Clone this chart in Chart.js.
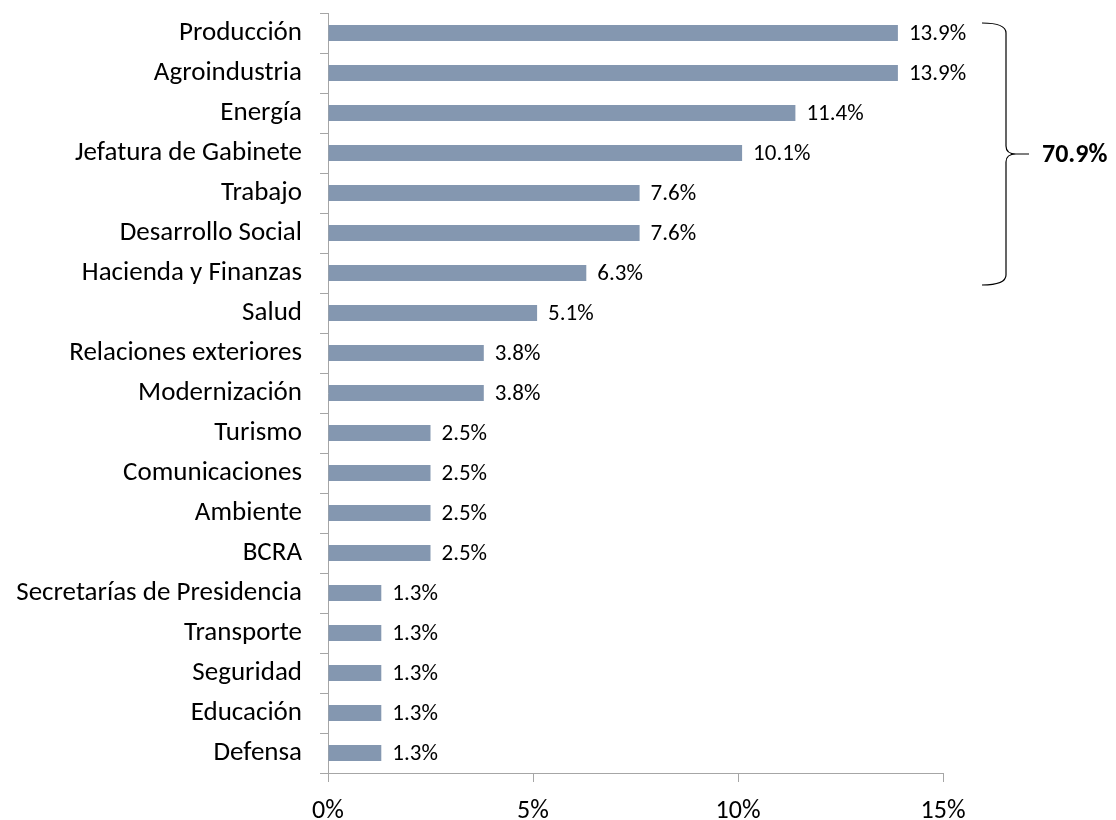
<!DOCTYPE html>
<html>
<head>
<meta charset="utf-8">
<script src="https://cdn.jsdelivr.net/npm/chart.js@4"></script>
<style>
  body { margin: 0; background: #fff; }
</style>
</head>
<body>
<canvas id="myChart" width="1116" height="820"></canvas>
<script>
  var categories = ["Producción", "Agroindustria", "Energía", "Jefatura de Gabinete", "Trabajo",
    "Desarrollo Social", "Hacienda y Finanzas", "Salud", "Relaciones exteriores", "Modernización",
    "Turismo", "Comunicaciones", "Ambiente", "BCRA", "Secretarías de Presidencia", "Transporte",
    "Seguridad", "Educación", "Defensa"];
  var shares = [13.9, 13.9, 11.4, 10.1, 7.6, 7.6, 6.3, 5.1, 3.8, 3.8, 2.5, 2.5, 2.5, 2.5, 1.3, 1.3, 1.3, 1.3, 1.3];
  var xTicks = [0, 5, 10, 15];
  var braceFirst = 0, braceLast = 6;
  var braceLabel = "70.9%";

  var fontFamily = "Carlito, Calibri, Lato, sans-serif";
  var axisGray = "#A6A6A6";

  var valueLabels = {
    id: "valueLabels",
    afterDatasetsDraw: function (chart) {
      var ctx = chart.ctx;
      ctx.save();
      ctx.font = "23px " + fontFamily;
      ctx.fillStyle = "#000";
      ctx.textAlign = "left";
      ctx.textBaseline = "middle";
      chart.getDatasetMeta(0).data.forEach(function (bar, i) {
        ctx.fillText(shares[i].toFixed(1) + "%", bar.x + 11, bar.y + 1);
      });
      ctx.restore();
    }
  };

  var brace = {
    id: "brace",
    afterDraw: function (chart) {
      var ctx = chart.ctx;
      var y = chart.scales.y, x = chart.scales.x;
      var top = y.getPixelForValue(braceFirst) - 10;
      var bottom = y.getPixelForValue(braceLast) + 12;
      var mid = (top + bottom) / 2;
      var xl = x.right + 39, xv = x.right + 63, xt = x.right + 86;
      ctx.save();
      ctx.strokeStyle = "#000";
      ctx.lineWidth = 1.2;
      ctx.beginPath();
      ctx.moveTo(xl, top);
      ctx.quadraticCurveTo(xv, top, xv, top + 10);
      ctx.lineTo(xv, mid - 8);
      ctx.quadraticCurveTo(xv, mid, xv + 10, mid);
      ctx.lineTo(xt, mid);
      ctx.moveTo(xv + 10, mid);
      ctx.quadraticCurveTo(xv, mid, xv, mid + 8);
      ctx.lineTo(xv, bottom - 10);
      ctx.quadraticCurveTo(xv, bottom, xl, bottom);
      ctx.stroke();
      ctx.font = "bold 26px " + fontFamily;
      ctx.fillStyle = "#000";
      ctx.textAlign = "left";
      ctx.textBaseline = "middle";
      ctx.fillText(braceLabel, xt + 13, mid + 1);
      ctx.restore();
    }
  };

  var ctx = document.getElementById("myChart");
  var myChart = new Chart(ctx, {
    type: "bar",
    data: {
      labels: categories,
      datasets: [
        {
          data: shares,
          backgroundColor: "#8497B0",
          barPercentage: 0.4,
          categoryPercentage: 1
        }
      ]
    },
    options: {
      indexAxis: "y",
      responsive: false,
      animation: false,
      layout: { padding: { top: 13, right: 173, left: 0, bottom: 0 } },
      plugins: {
        legend: { display: false },
        tooltip: { enabled: false }
      },
      scales: {
        x: {
          min: 0,
          max: 15,
          afterBuildTicks: function (scale) {
            scale.ticks = xTicks.map(function (v) { return { value: v }; });
          },
          afterFit: function (scale) {
            scale.height = 47;
            scale.paddingLeft = 0;
            scale.paddingRight = 0;
          },
          grid: { drawOnChartArea: false, drawTicks: true, tickLength: 9, color: axisGray },
          border: { display: true, color: axisGray },
          ticks: {
            padding: 14,
            color: "#000",
            font: { family: fontFamily, size: 26 },
            callback: function (v) { return v + "%"; }
          }
        },
        y: {
          afterFit: function (scale) {
            scale.width = 328;
            scale.paddingTop = 0;
            scale.paddingBottom = 0;
          },
          grid: { drawOnChartArea: false, drawTicks: true, tickLength: 8, color: axisGray, offset: true },
          border: { display: true, color: axisGray },
          ticks: {
            padding: 18,
            color: "#000",
            font: { family: fontFamily, size: 27 }
          }
        }
      }
    },
    plugins: [valueLabels, brace]
  });
</script>
</body>
</html>
